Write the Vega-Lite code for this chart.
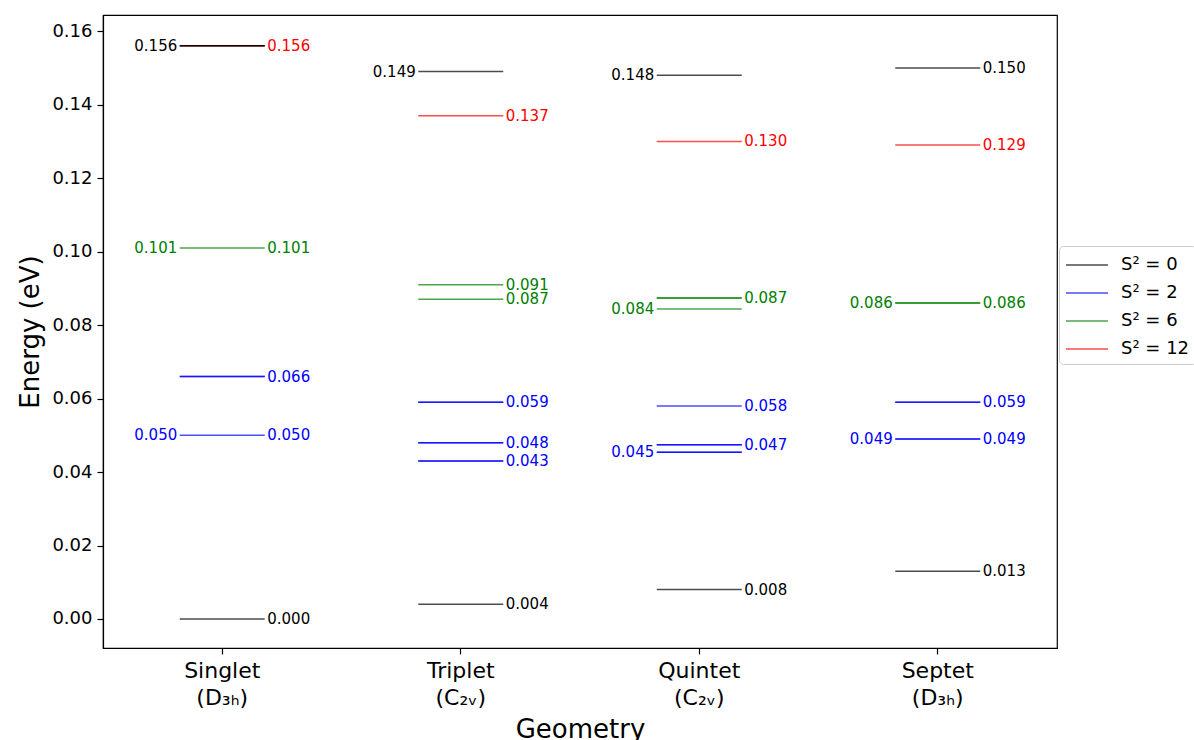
{
  "$schema": "https://vega.github.io/schema/vega-lite/v6.json",
  "width": 954,
  "height": 633,
  "autosize": "none",
  "padding": {"left": 103, "top": 15, "right": 137, "bottom": 92},
  "background": "white",
  "config": {
    "font": "DejaVu Sans",
    "view": {"stroke": "#000000", "strokeWidth": 1.2},
    "axis": {"domainColor": "#000000", "tickColor": "#000000", "labelColor": "#000000", "titleColor": "#000000", "titleFontWeight": "normal", "grid": false, "domainWidth": 1.2, "tickWidth": 1.2}
  },
  "datasets": {
    "levels": [
      {"geometry": "Singlet", "energy": 0.156, "spin": "S² = 12"},
      {"geometry": "Singlet", "energy": 0.156, "spin": "S² = 0"},
      {"geometry": "Singlet", "energy": 0.156, "spin": "S² = 0"},
      {"geometry": "Singlet", "energy": 0.101, "spin": "S² = 6"},
      {"geometry": "Singlet", "energy": 0.066, "spin": "S² = 2"},
      {"geometry": "Singlet", "energy": 0.066, "spin": "S² = 2"},
      {"geometry": "Singlet", "energy": 0.050, "spin": "S² = 2"},
      {"geometry": "Singlet", "energy": 0.000, "spin": "S² = 0"},
      {"geometry": "Triplet", "energy": 0.149, "spin": "S² = 0"},
      {"geometry": "Triplet", "energy": 0.137, "spin": "S² = 12"},
      {"geometry": "Triplet", "energy": 0.091, "spin": "S² = 6"},
      {"geometry": "Triplet", "energy": 0.087, "spin": "S² = 6"},
      {"geometry": "Triplet", "energy": 0.059, "spin": "S² = 2"},
      {"geometry": "Triplet", "energy": 0.059, "spin": "S² = 2"},
      {"geometry": "Triplet", "energy": 0.048, "spin": "S² = 2"},
      {"geometry": "Triplet", "energy": 0.048, "spin": "S² = 2"},
      {"geometry": "Triplet", "energy": 0.043, "spin": "S² = 2"},
      {"geometry": "Triplet", "energy": 0.043, "spin": "S² = 2"},
      {"geometry": "Triplet", "energy": 0.004, "spin": "S² = 0"},
      {"geometry": "Quintet", "energy": 0.148, "spin": "S² = 0"},
      {"geometry": "Quintet", "energy": 0.130, "spin": "S² = 12"},
      {"geometry": "Quintet", "energy": 0.0874, "spin": "S² = 6"},
      {"geometry": "Quintet", "energy": 0.0874, "spin": "S² = 6"},
      {"geometry": "Quintet", "energy": 0.0844, "spin": "S² = 6"},
      {"geometry": "Quintet", "energy": 0.058, "spin": "S² = 2"},
      {"geometry": "Quintet", "energy": 0.0474, "spin": "S² = 2"},
      {"geometry": "Quintet", "energy": 0.0474, "spin": "S² = 2"},
      {"geometry": "Quintet", "energy": 0.0454, "spin": "S² = 2"},
      {"geometry": "Quintet", "energy": 0.0454, "spin": "S² = 2"},
      {"geometry": "Quintet", "energy": 0.008, "spin": "S² = 0"},
      {"geometry": "Septet", "energy": 0.150, "spin": "S² = 0"},
      {"geometry": "Septet", "energy": 0.129, "spin": "S² = 12"},
      {"geometry": "Septet", "energy": 0.086, "spin": "S² = 6"},
      {"geometry": "Septet", "energy": 0.086, "spin": "S² = 6"},
      {"geometry": "Septet", "energy": 0.059, "spin": "S² = 2"},
      {"geometry": "Septet", "energy": 0.059, "spin": "S² = 2"},
      {"geometry": "Septet", "energy": 0.049, "spin": "S² = 2"},
      {"geometry": "Septet", "energy": 0.049, "spin": "S² = 2"},
      {"geometry": "Septet", "energy": 0.013, "spin": "S² = 0"}
    ],
    "leftLabels": [
      {"geometry": "Singlet", "energy": 0.156, "spin": "S² = 0"},
      {"geometry": "Singlet", "energy": 0.101, "spin": "S² = 6"},
      {"geometry": "Singlet", "energy": 0.050, "spin": "S² = 2"},
      {"geometry": "Triplet", "energy": 0.149, "spin": "S² = 0"},
      {"geometry": "Quintet", "energy": 0.148, "spin": "S² = 0"},
      {"geometry": "Quintet", "energy": 0.0844, "spin": "S² = 6"},
      {"geometry": "Quintet", "energy": 0.0454, "spin": "S² = 2"},
      {"geometry": "Septet", "energy": 0.086, "spin": "S² = 6"},
      {"geometry": "Septet", "energy": 0.049, "spin": "S² = 2"}
    ],
    "rightLabels": [
      {"geometry": "Singlet", "energy": 0.156, "spin": "S² = 12"},
      {"geometry": "Singlet", "energy": 0.101, "spin": "S² = 6"},
      {"geometry": "Singlet", "energy": 0.066, "spin": "S² = 2"},
      {"geometry": "Singlet", "energy": 0.050, "spin": "S² = 2"},
      {"geometry": "Singlet", "energy": 0.000, "spin": "S² = 0"},
      {"geometry": "Triplet", "energy": 0.137, "spin": "S² = 12"},
      {"geometry": "Triplet", "energy": 0.091, "spin": "S² = 6"},
      {"geometry": "Triplet", "energy": 0.087, "spin": "S² = 6"},
      {"geometry": "Triplet", "energy": 0.059, "spin": "S² = 2"},
      {"geometry": "Triplet", "energy": 0.048, "spin": "S² = 2"},
      {"geometry": "Triplet", "energy": 0.043, "spin": "S² = 2"},
      {"geometry": "Triplet", "energy": 0.004, "spin": "S² = 0"},
      {"geometry": "Quintet", "energy": 0.130, "spin": "S² = 12"},
      {"geometry": "Quintet", "energy": 0.0874, "spin": "S² = 6"},
      {"geometry": "Quintet", "energy": 0.058, "spin": "S² = 2"},
      {"geometry": "Quintet", "energy": 0.0474, "spin": "S² = 2"},
      {"geometry": "Quintet", "energy": 0.008, "spin": "S² = 0"},
      {"geometry": "Septet", "energy": 0.150, "spin": "S² = 0"},
      {"geometry": "Septet", "energy": 0.129, "spin": "S² = 12"},
      {"geometry": "Septet", "energy": 0.086, "spin": "S² = 6"},
      {"geometry": "Septet", "energy": 0.059, "spin": "S² = 2"},
      {"geometry": "Septet", "energy": 0.049, "spin": "S² = 2"},
      {"geometry": "Septet", "energy": 0.013, "spin": "S² = 0"}
    ]
  },
  "encoding": {
    "x": {
      "field": "geometry",
      "type": "nominal",
      "scale": {"type": "band", "domain": ["Singlet", "Triplet", "Quintet", "Septet"], "paddingInner": 0, "paddingOuter": 0},
      "axis": {
        "title": "Geometry",
        "titleFontSize": 26,
        "titlePadding": 8,
        "labelFontSize": 22,
        "labelLineHeight": 27,
        "labelAngle": 0,
        "labelPadding": 6,
        "tickSize": 6,
        "labelExpr": "[datum.value, (datum.value == 'Singlet' || datum.value == 'Septet') ? '(D₃ₕ)' : '(C₂ᵥ)']"
      }
    },
    "y": {
      "field": "energy",
      "type": "quantitative",
      "scale": {"domain": [-0.0079, 0.1644], "nice": false, "zero": false},
      "axis": {
        "title": "Energy (eV)",
        "titleFontSize": 26,
        "titlePadding": 8,
        "values": [0, 0.02, 0.04, 0.06, 0.08, 0.1, 0.12, 0.14, 0.16],
        "format": ".2f",
        "labelFontSize": 18,
        "labelPadding": 5,
        "tickSize": 6
      }
    },
    "color": {
      "field": "spin",
      "type": "nominal",
      "scale": {"domain": ["S² = 0", "S² = 2", "S² = 6", "S² = 12"], "range": ["#000000", "#0000ff", "#008000", "#ff0000"]}
    }
  },
  "layer": [
    {
      "data": {"name": "levels"},
      "mark": {"type": "line", "opacity": 0.7, "strokeWidth": 1.5, "strokeCap": "butt"},
      "encoding": {
        "detail": [{"field": "geometry", "type": "nominal"}, {"field": "energy", "type": "quantitative"}],
        "color": {
          "field": "spin",
          "type": "nominal",
          "scale": {"domain": ["S² = 0", "S² = 2", "S² = 6", "S² = 12"], "range": ["#000000", "#0000ff", "#008000", "#ff0000"]},
          "legend": {
            "title": null,
            "orient": "none",
            "legendX": 956,
            "legendY": 231,
            "symbolType": "M-1.75,0H1.75",
            "symbolSize": 576,
            "symbolOffset": 9,
            "symbolStrokeWidth": 1.5,
            "labelFontSize": 18,
            "labelColor": "#000000",
            "labelOffset": 21,
            "rowPadding": 6,
            "padding": 6,
            "strokeColor": "#cccccc",
            "fillColor": "#ffffff",
            "cornerRadius": 4
          }
        }
      }
    },
    {
      "data": {"name": "levels"},
      "mark": {"type": "tick", "orient": "horizontal", "size": 85, "thickness": 1.5, "opacity": 0.7},
      "encoding": {
        "color": {"field": "spin", "type": "nominal", "legend": null}
      }
    },
    {
      "data": {"name": "leftLabels"},
      "mark": {"type": "text", "align": "right", "baseline": "middle", "dx": -45, "fontSize": 15},
      "encoding": {
        "text": {"field": "energy", "type": "quantitative", "format": ".3f"},
        "color": {"field": "spin", "type": "nominal", "legend": null}
      }
    },
    {
      "data": {"name": "rightLabels"},
      "mark": {"type": "text", "align": "left", "baseline": "middle", "dx": 45, "fontSize": 15},
      "encoding": {
        "text": {"field": "energy", "type": "quantitative", "format": ".3f"},
        "color": {"field": "spin", "type": "nominal", "legend": null}
      }
    }
  ],
  "resolve": {"legend": {"color": "independent"}}
}
